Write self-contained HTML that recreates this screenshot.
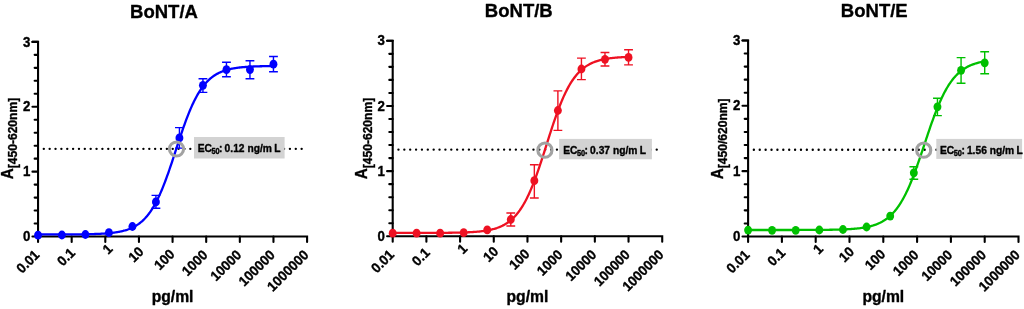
<!DOCTYPE html>
<html><head><meta charset="utf-8"><title>BoNT dose-response</title>
<style>html,body{margin:0;padding:0;background:#fff;width:1024px;height:309px;overflow:hidden}svg{display:block}text{stroke:#000;stroke-width:.35px;stroke-linejoin:round}</style>
</head><body>
<svg width="1024" height="309" viewBox="0 0 1024 309" font-family='"Liberation Sans", Arial, Helvetica, sans-serif' font-weight="bold"><g><text transform="translate(164.00,18.45) scale(0.975,1.0)" font-size="19" text-anchor="middle">BoNT/A</text><text transform="translate(12.75,179.30) rotate(-90) scale(0.96,1.03)" font-size="16">A</text><text transform="translate(17.30,168.30) rotate(-90) scale(1,1.03)" font-size="12.1">[450-620nm]</text><path d="M32.45,41.90H38.05V241.90M38.05,236.50H307.09V241.90" stroke="#000" stroke-width="2.1" fill="none" stroke-linecap="round" stroke-linejoin="miter"/><path d="M32.45,236.50H38.05M34.65,223.53H38.05M34.65,210.55H38.05M34.65,197.58H38.05M34.65,184.61H38.05M32.45,171.63H38.05M34.65,158.66H38.05M34.65,145.69H38.05M34.65,132.71H38.05M34.65,119.74H38.05M32.45,106.77H38.05M34.65,93.79H38.05M34.65,80.82H38.05M34.65,67.85H38.05M34.65,54.87H38.05M32.45,41.90H38.05M71.68,236.50V241.90M105.31,236.50V241.90M138.94,236.50V241.90M172.57,236.50V241.90M206.20,236.50V241.90M239.83,236.50V241.90M273.46,236.50V241.90" stroke="#000" stroke-width="2.1" fill="none" stroke-linecap="round"/><text transform="translate(30.35,241.10) scale(0.93,1.05)" font-size="14.3" text-anchor="end">0</text><text transform="translate(30.35,176.23) scale(0.93,1.05)" font-size="14.3" text-anchor="end">1</text><text transform="translate(30.35,111.37) scale(0.93,1.05)" font-size="14.3" text-anchor="end">2</text><text transform="translate(30.35,46.50) scale(0.93,1.05)" font-size="14.3" text-anchor="end">3</text><text transform="translate(40.35,255.70) rotate(-45) scale(1,1.03)" text-anchor="end" font-size="13.3">0.01</text><text transform="translate(75.93,253.75) rotate(-45) scale(1,1.03)" text-anchor="end" font-size="13.3">0.1</text><text transform="translate(113.48,249.83) rotate(-45) scale(1,1.03)" text-anchor="end" font-size="13.3">1</text><text transform="translate(144.49,252.45) rotate(-45) scale(1,1.03)" text-anchor="end" font-size="13.3">10</text><text transform="translate(175.51,255.06) rotate(-45) scale(1,1.03)" text-anchor="end" font-size="13.3">100</text><text transform="translate(208.50,255.70) rotate(-45) scale(1,1.03)" text-anchor="end" font-size="13.3">1000</text><text transform="translate(242.13,255.70) rotate(-45) scale(1,1.03)" text-anchor="end" font-size="13.3">10000</text><text transform="translate(275.76,255.70) rotate(-45) scale(1,1.03)" text-anchor="end" font-size="13.3">100000</text><text transform="translate(309.39,255.70) rotate(-45) scale(1,1.03)" text-anchor="end" font-size="13.3">1000000</text><text x="172.57" y="302.0" font-size="15.7" text-anchor="middle">pg/ml</text><line x1="43.80" y1="148.80" x2="303.05" y2="148.80" stroke="#000" stroke-width="2.35" stroke-linecap="round" stroke-dasharray="0.01 5.850"/><path d="M38.05,234.45 L38.84,234.45 L39.62,234.45 L40.41,234.45 L41.20,234.45 L41.99,234.45 L42.77,234.45 L43.56,234.45 L44.35,234.45 L45.14,234.45 L45.92,234.45 L46.71,234.45 L47.50,234.45 L48.29,234.45 L49.07,234.44 L49.86,234.44 L50.65,234.44 L51.43,234.44 L52.22,234.44 L53.01,234.44 L53.80,234.44 L54.58,234.44 L55.37,234.44 L56.16,234.43 L56.95,234.43 L57.73,234.43 L58.52,234.43 L59.31,234.43 L60.10,234.42 L60.88,234.42 L61.67,234.42 L62.46,234.42 L63.24,234.42 L64.03,234.41 L64.82,234.41 L65.61,234.41 L66.39,234.40 L67.18,234.40 L67.97,234.40 L68.76,234.39 L69.54,234.39 L70.33,234.38 L71.12,234.38 L71.90,234.37 L72.69,234.37 L73.48,234.36 L74.27,234.36 L75.05,234.35 L75.84,234.35 L76.63,234.34 L77.42,234.33 L78.20,234.32 L78.99,234.32 L79.78,234.31 L80.57,234.30 L81.35,234.29 L82.14,234.28 L82.93,234.27 L83.71,234.26 L84.50,234.24 L85.29,234.23 L86.08,234.22 L86.86,234.20 L87.65,234.19 L88.44,234.17 L89.23,234.16 L90.01,234.14 L90.80,234.12 L91.59,234.10 L92.38,234.08 L93.16,234.05 L93.95,234.03 L94.74,234.00 L95.52,233.98 L96.31,233.95 L97.10,233.92 L97.89,233.89 L98.67,233.85 L99.46,233.82 L100.25,233.78 L101.04,233.74 L101.82,233.70 L102.61,233.65 L103.40,233.60 L104.19,233.55 L104.97,233.50 L105.76,233.45 L106.55,233.39 L107.33,233.32 L108.12,233.26 L108.91,233.19 L109.70,233.11 L110.48,233.03 L111.27,232.95 L112.06,232.86 L112.85,232.77 L113.63,232.67 L114.42,232.56 L115.21,232.45 L116.00,232.33 L116.78,232.21 L117.57,232.08 L118.36,231.94 L119.14,231.79 L119.93,231.64 L120.72,231.48 L121.51,231.30 L122.29,231.12 L123.08,230.93 L123.87,230.72 L124.66,230.51 L125.44,230.28 L126.23,230.04 L127.02,229.79 L127.80,229.52 L128.59,229.24 L129.38,228.94 L130.17,228.62 L130.95,228.29 L131.74,227.94 L132.53,227.57 L133.32,227.18 L134.10,226.77 L134.89,226.34 L135.68,225.89 L136.47,225.41 L137.25,224.90 L138.04,224.37 L138.83,223.82 L139.61,223.23 L140.40,222.61 L141.19,221.97 L141.98,221.29 L142.76,220.57 L143.55,219.82 L144.34,219.04 L145.13,218.22 L145.91,217.35 L146.70,216.45 L147.49,215.51 L148.28,214.52 L149.06,213.49 L149.85,212.42 L150.64,211.29 L151.42,210.13 L152.21,208.91 L153.00,207.64 L153.79,206.32 L154.57,204.95 L155.36,203.53 L156.15,202.05 L156.94,200.53 L157.72,198.94 L158.51,197.31 L159.30,195.62 L160.09,193.88 L160.87,192.09 L161.66,190.25 L162.45,188.35 L163.23,186.40 L164.02,184.41 L164.81,182.37 L165.60,180.28 L166.38,178.15 L167.17,175.98 L167.96,173.78 L168.75,171.53 L169.53,169.25 L170.32,166.95 L171.11,164.61 L171.90,162.26 L172.68,159.88 L173.47,157.49 L174.26,155.09 L175.04,152.67 L175.83,150.26 L176.62,147.84 L177.41,145.43 L178.19,143.03 L178.98,140.63 L179.77,138.26 L180.56,135.90 L181.34,133.57 L182.13,131.26 L182.92,128.98 L183.71,126.73 L184.49,124.52 L185.28,122.35 L186.07,120.22 L186.85,118.13 L187.64,116.08 L188.43,114.09 L189.22,112.14 L190.00,110.24 L190.79,108.39 L191.58,106.59 L192.37,104.85 L193.15,103.16 L193.94,101.52 L194.73,99.94 L195.51,98.41 L196.30,96.93 L197.09,95.50 L197.88,94.13 L198.66,92.81 L199.45,91.54 L200.24,90.32 L201.03,89.14 L201.81,88.02 L202.60,86.94 L203.39,85.91 L204.18,84.92 L204.96,83.97 L205.75,83.07 L206.54,82.20 L207.32,81.38 L208.11,80.59 L208.90,79.84 L209.69,79.12 L210.47,78.44 L211.26,77.79 L212.05,77.18 L212.84,76.59 L213.62,76.03 L214.41,75.50 L215.20,74.99 L215.99,74.51 L216.77,74.05 L217.56,73.62 L218.35,73.21 L219.13,72.82 L219.92,72.45 L220.71,72.10 L221.50,71.76 L222.28,71.45 L223.07,71.15 L223.86,70.86 L224.65,70.60 L225.43,70.34 L226.22,70.10 L227.01,69.87 L227.80,69.66 L228.58,69.45 L229.37,69.26 L230.16,69.07 L230.94,68.90 L231.73,68.74 L232.52,68.58 L233.31,68.43 L234.09,68.30 L234.88,68.16 L235.67,68.04 L236.46,67.92 L237.24,67.81 L238.03,67.71 L238.82,67.61 L239.61,67.51 L240.39,67.42 L241.18,67.34 L241.97,67.26 L242.75,67.19 L243.54,67.11 L244.33,67.05 L245.12,66.98 L245.90,66.92 L246.69,66.87 L247.48,66.81 L248.27,66.76 L249.05,66.72 L249.84,66.67 L250.63,66.63 L251.41,66.59 L252.20,66.55 L252.99,66.52 L253.78,66.48 L254.56,66.45 L255.35,66.42 L256.14,66.39 L256.93,66.36 L257.71,66.34 L258.50,66.31 L259.29,66.29 L260.08,66.27 L260.86,66.25 L261.65,66.23 L262.44,66.21 L263.22,66.20 L264.01,66.18 L264.80,66.16 L265.59,66.15 L266.37,66.14 L267.16,66.12 L267.95,66.11 L268.74,66.10 L269.52,66.09 L270.31,66.08 L271.10,66.07 L271.89,66.06 L272.67,66.05 L273.46,66.04" stroke="#0000ff" stroke-width="2.3" fill="none" stroke-linejoin="round"/><path d="M155.93,195.40V208.20M151.53,195.40H160.33M151.53,208.20H160.33M179.43,127.60V148.10M175.03,127.60H183.83M175.03,148.10H183.83M202.94,78.80V92.40M198.54,78.80H207.34M198.54,92.40H207.34M226.45,62.30V76.70M222.05,62.30H230.85M222.05,76.70H230.85M249.95,60.70V78.70M245.55,60.70H254.35M245.55,78.70H254.35M273.46,56.50V71.80M269.06,56.50H277.86M269.06,71.80H277.86" stroke="#0000ff" stroke-width="1.4" fill="none"/><ellipse cx="38.05" cy="235.20" rx="3.95" ry="4.4" fill="#0000ff"/><ellipse cx="61.90" cy="235.00" rx="3.95" ry="4.4" fill="#0000ff"/><ellipse cx="85.41" cy="234.50" rx="3.95" ry="4.4" fill="#0000ff"/><ellipse cx="108.92" cy="232.70" rx="3.95" ry="4.4" fill="#0000ff"/><ellipse cx="132.42" cy="226.50" rx="3.95" ry="4.4" fill="#0000ff"/><ellipse cx="155.93" cy="201.90" rx="3.95" ry="4.4" fill="#0000ff"/><ellipse cx="179.43" cy="137.90" rx="3.95" ry="4.4" fill="#0000ff"/><ellipse cx="202.94" cy="85.30" rx="3.95" ry="4.4" fill="#0000ff"/><ellipse cx="226.45" cy="69.70" rx="3.95" ry="4.4" fill="#0000ff"/><ellipse cx="249.95" cy="69.60" rx="3.95" ry="4.4" fill="#0000ff"/><ellipse cx="273.46" cy="64.20" rx="3.95" ry="4.4" fill="#0000ff"/><circle cx="176.50" cy="149.00" r="7.1" fill="none" stroke="#a2a2a2" stroke-width="3.05"/><rect x="194.0" y="137.0" width="90.6" height="21.5" fill="#d3d3d3"/><text transform="translate(197.71,151.80) scale(1,1.01)" font-size="10.25"><tspan x="0" y="0">EC</tspan><tspan x="21.4" y="0">:</tspan><tspan x="26.9" y="0">0.12 ng/m</tspan><tspan x="76.6" y="0">L</tspan></text><text transform="translate(211.41,154.10) scale(0.96,1.12)" font-size="7.7">50</text></g><g><text transform="translate(518.80,17.35) scale(0.975,1.0)" font-size="19" text-anchor="middle">BoNT/B</text><text transform="translate(367.40,179.30) rotate(-90) scale(0.96,1.03)" font-size="16">A</text><text transform="translate(371.95,168.30) rotate(-90) scale(1,1.03)" font-size="12.1">[450-620nm]</text><path d="M387.10,40.80H392.70V241.70M392.70,236.30H662.22V241.70" stroke="#000" stroke-width="2.1" fill="none" stroke-linecap="round" stroke-linejoin="miter"/><path d="M387.10,236.30H392.70M389.30,223.27H392.70M389.30,210.23H392.70M389.30,197.20H392.70M389.30,184.17H392.70M387.10,171.13H392.70M389.30,158.10H392.70M389.30,145.07H392.70M389.30,132.03H392.70M389.30,119.00H392.70M387.10,105.97H392.70M389.30,92.93H392.70M389.30,79.90H392.70M389.30,66.87H392.70M389.30,53.83H392.70M387.10,40.80H392.70M426.39,236.30V241.70M460.08,236.30V241.70M493.77,236.30V241.70M527.46,236.30V241.70M561.15,236.30V241.70M594.84,236.30V241.70M628.53,236.30V241.70" stroke="#000" stroke-width="2.1" fill="none" stroke-linecap="round"/><text transform="translate(385.00,240.90) scale(0.93,1.05)" font-size="14.3" text-anchor="end">0</text><text transform="translate(385.00,175.73) scale(0.93,1.05)" font-size="14.3" text-anchor="end">1</text><text transform="translate(385.00,110.57) scale(0.93,1.05)" font-size="14.3" text-anchor="end">2</text><text transform="translate(385.00,45.40) scale(0.93,1.05)" font-size="14.3" text-anchor="end">3</text><text transform="translate(395.00,255.50) rotate(-45) scale(1,1.03)" text-anchor="end" font-size="13.3">0.01</text><text transform="translate(430.64,253.55) rotate(-45) scale(1,1.03)" text-anchor="end" font-size="13.3">0.1</text><text transform="translate(468.25,249.63) rotate(-45) scale(1,1.03)" text-anchor="end" font-size="13.3">1</text><text transform="translate(499.32,252.25) rotate(-45) scale(1,1.03)" text-anchor="end" font-size="13.3">10</text><text transform="translate(530.40,254.86) rotate(-45) scale(1,1.03)" text-anchor="end" font-size="13.3">100</text><text transform="translate(563.45,255.50) rotate(-45) scale(1,1.03)" text-anchor="end" font-size="13.3">1000</text><text transform="translate(597.14,255.50) rotate(-45) scale(1,1.03)" text-anchor="end" font-size="13.3">10000</text><text transform="translate(630.83,255.50) rotate(-45) scale(1,1.03)" text-anchor="end" font-size="13.3">100000</text><text transform="translate(664.52,255.50) rotate(-45) scale(1,1.03)" text-anchor="end" font-size="13.3">1000000</text><text x="527.46" y="302.0" font-size="15.7" text-anchor="middle">pg/ml</text><line x1="398.45" y1="149.60" x2="657.70" y2="149.60" stroke="#000" stroke-width="2.35" stroke-linecap="round" stroke-dasharray="0.01 5.860"/><path d="M392.70,232.92 L393.49,232.92 L394.28,232.92 L395.07,232.92 L395.85,232.92 L396.64,232.92 L397.43,232.92 L398.22,232.92 L399.01,232.92 L399.80,232.92 L400.59,232.92 L401.38,232.92 L402.16,232.92 L402.95,232.92 L403.74,232.92 L404.53,232.92 L405.32,232.92 L406.11,232.92 L406.90,232.92 L407.69,232.92 L408.47,232.92 L409.26,232.92 L410.05,232.92 L410.84,232.92 L411.63,232.92 L412.42,232.92 L413.21,232.91 L414.00,232.91 L414.78,232.91 L415.57,232.91 L416.36,232.91 L417.15,232.91 L417.94,232.91 L418.73,232.91 L419.52,232.91 L420.31,232.91 L421.09,232.91 L421.88,232.90 L422.67,232.90 L423.46,232.90 L424.25,232.90 L425.04,232.90 L425.83,232.90 L426.62,232.89 L427.40,232.89 L428.19,232.89 L428.98,232.89 L429.77,232.89 L430.56,232.88 L431.35,232.88 L432.14,232.88 L432.93,232.88 L433.71,232.87 L434.50,232.87 L435.29,232.87 L436.08,232.86 L436.87,232.86 L437.66,232.85 L438.45,232.85 L439.24,232.85 L440.02,232.84 L440.81,232.84 L441.60,232.83 L442.39,232.83 L443.18,232.82 L443.97,232.81 L444.76,232.81 L445.54,232.80 L446.33,232.79 L447.12,232.78 L447.91,232.78 L448.70,232.77 L449.49,232.76 L450.28,232.75 L451.07,232.74 L451.85,232.73 L452.64,232.71 L453.43,232.70 L454.22,232.69 L455.01,232.68 L455.80,232.66 L456.59,232.64 L457.38,232.63 L458.16,232.61 L458.95,232.59 L459.74,232.57 L460.53,232.55 L461.32,232.53 L462.11,232.51 L462.90,232.48 L463.69,232.46 L464.47,232.43 L465.26,232.40 L466.05,232.37 L466.84,232.34 L467.63,232.31 L468.42,232.27 L469.21,232.23 L470.00,232.19 L470.78,232.15 L471.57,232.10 L472.36,232.06 L473.15,232.01 L473.94,231.95 L474.73,231.90 L475.52,231.84 L476.31,231.78 L477.09,231.71 L477.88,231.64 L478.67,231.56 L479.46,231.49 L480.25,231.40 L481.04,231.32 L481.83,231.22 L482.62,231.12 L483.40,231.02 L484.19,230.91 L484.98,230.80 L485.77,230.67 L486.56,230.54 L487.35,230.41 L488.14,230.26 L488.92,230.11 L489.71,229.95 L490.50,229.78 L491.29,229.60 L492.08,229.41 L492.87,229.21 L493.66,229.00 L494.45,228.78 L495.23,228.55 L496.02,228.30 L496.81,228.04 L497.60,227.76 L498.39,227.47 L499.18,227.17 L499.97,226.84 L500.76,226.50 L501.54,226.14 L502.33,225.77 L503.12,225.37 L503.91,224.95 L504.70,224.51 L505.49,224.04 L506.28,223.56 L507.07,223.04 L507.85,222.50 L508.64,221.94 L509.43,221.34 L510.22,220.71 L511.01,220.06 L511.80,219.37 L512.59,218.64 L513.38,217.89 L514.16,217.09 L514.95,216.26 L515.74,215.39 L516.53,214.48 L517.32,213.52 L518.11,212.53 L518.90,211.49 L519.69,210.40 L520.47,209.27 L521.26,208.09 L522.05,206.86 L522.84,205.58 L523.63,204.25 L524.42,202.87 L525.21,201.44 L526.00,199.95 L526.78,198.41 L527.57,196.82 L528.36,195.17 L529.15,193.47 L529.94,191.72 L530.73,189.91 L531.52,188.04 L532.31,186.13 L533.09,184.16 L533.88,182.15 L534.67,180.08 L535.46,177.97 L536.25,175.81 L537.04,173.61 L537.83,171.37 L538.61,169.09 L539.40,166.78 L540.19,164.43 L540.98,162.05 L541.77,159.64 L542.56,157.21 L543.35,154.76 L544.14,152.30 L544.92,149.82 L545.71,147.34 L546.50,144.85 L547.29,142.36 L548.08,139.88 L548.87,137.40 L549.66,134.93 L550.45,132.48 L551.23,130.05 L552.02,127.64 L552.81,125.26 L553.60,122.90 L554.39,120.58 L555.18,118.30 L555.97,116.05 L556.76,113.84 L557.54,111.68 L558.33,109.56 L559.12,107.49 L559.91,105.46 L560.70,103.49 L561.49,101.57 L562.28,99.70 L563.07,97.88 L563.85,96.12 L564.64,94.41 L565.43,92.76 L566.22,91.16 L567.01,89.61 L567.80,88.11 L568.59,86.67 L569.38,85.29 L570.16,83.95 L570.95,82.66 L571.74,81.43 L572.53,80.24 L573.32,79.10 L574.11,78.01 L574.90,76.96 L575.69,75.96 L576.47,75.00 L577.26,74.08 L578.05,73.21 L578.84,72.37 L579.63,71.57 L580.42,70.81 L581.21,70.08 L581.99,69.38 L582.78,68.72 L583.57,68.09 L584.36,67.49 L585.15,66.92 L585.94,66.38 L586.73,65.86 L587.52,65.37 L588.30,64.90 L589.09,64.45 L589.88,64.03 L590.67,63.63 L591.46,63.25 L592.25,62.89 L593.04,62.55 L593.83,62.22 L594.61,61.91 L595.40,61.62 L596.19,61.34 L596.98,61.08 L597.77,60.83 L598.56,60.59 L599.35,60.37 L600.14,60.16 L600.92,59.96 L601.71,59.77 L602.50,59.59 L603.29,59.41 L604.08,59.25 L604.87,59.10 L605.66,58.95 L606.45,58.82 L607.23,58.69 L608.02,58.56 L608.81,58.45 L609.60,58.34 L610.39,58.23 L611.18,58.13 L611.97,58.04 L612.76,57.95 L613.54,57.87 L614.33,57.79 L615.12,57.71 L615.91,57.64 L616.70,57.58 L617.49,57.51 L618.28,57.45 L619.07,57.40 L619.85,57.34 L620.64,57.29 L621.43,57.24 L622.22,57.20 L623.01,57.16 L623.80,57.12 L624.59,57.08 L625.38,57.04 L626.16,57.01 L626.95,56.97 L627.74,56.94 L628.53,56.92" stroke="#ee1122" stroke-width="2.3" fill="none" stroke-linejoin="round"/><path d="M510.79,213.00V226.00M506.39,213.00H515.19M506.39,226.00H515.19M534.34,164.70V198.00M529.94,164.70H538.74M529.94,198.00H538.74M557.89,90.90V130.40M553.49,90.90H562.29M553.49,130.40H562.29M581.43,58.10V79.60M577.03,58.10H585.83M577.03,79.60H585.83M604.98,52.50V66.00M600.58,52.50H609.38M600.58,66.00H609.38M628.53,49.70V64.90M624.13,49.70H632.93M624.13,64.90H632.93" stroke="#ee1122" stroke-width="1.4" fill="none"/><ellipse cx="392.70" cy="233.20" rx="3.95" ry="4.4" fill="#ee1122"/><ellipse cx="416.60" cy="233.20" rx="3.95" ry="4.4" fill="#ee1122"/><ellipse cx="440.14" cy="233.20" rx="3.95" ry="4.4" fill="#ee1122"/><ellipse cx="463.69" cy="232.60" rx="3.95" ry="4.4" fill="#ee1122"/><ellipse cx="487.24" cy="229.90" rx="3.95" ry="4.4" fill="#ee1122"/><ellipse cx="510.79" cy="219.50" rx="3.95" ry="4.4" fill="#ee1122"/><ellipse cx="534.34" cy="180.70" rx="3.95" ry="4.4" fill="#ee1122"/><ellipse cx="557.89" cy="110.50" rx="3.95" ry="4.4" fill="#ee1122"/><ellipse cx="581.43" cy="69.00" rx="3.95" ry="4.4" fill="#ee1122"/><ellipse cx="604.98" cy="59.30" rx="3.95" ry="4.4" fill="#ee1122"/><ellipse cx="628.53" cy="57.40" rx="3.95" ry="4.4" fill="#ee1122"/><circle cx="544.90" cy="150.20" r="7.1" fill="none" stroke="#a2a2a2" stroke-width="3.05"/><rect x="559.1" y="138.9" width="92.8" height="20.4" fill="#d3d3d3"/><text transform="translate(563.21,153.60) scale(1,1.01)" font-size="10.25"><tspan x="0" y="0">EC</tspan><tspan x="21.4" y="0">:</tspan><tspan x="26.9" y="0">0.37 ng/m</tspan><tspan x="76.6" y="0">L</tspan></text><text transform="translate(576.91,155.90) scale(0.96,1.12)" font-size="7.7">50</text></g><g><text transform="translate(874.30,17.00) scale(0.975,1.0)" font-size="19" text-anchor="middle">BoNT/E</text><text transform="translate(722.80,179.30) rotate(-90) scale(0.96,1.03)" font-size="16">A</text><text transform="translate(727.35,168.30) rotate(-90) scale(1,1.03)" font-size="12.1">[450/620nm]</text><path d="M742.50,40.45H748.10V241.90M748.10,236.50H1018.50V241.90" stroke="#000" stroke-width="2.1" fill="none" stroke-linecap="round" stroke-linejoin="miter"/><path d="M742.50,236.50H748.10M744.70,223.43H748.10M744.70,210.36H748.10M744.70,197.29H748.10M744.70,184.22H748.10M742.50,171.15H748.10M744.70,158.08H748.10M744.70,145.01H748.10M744.70,131.94H748.10M744.70,118.87H748.10M742.50,105.80H748.10M744.70,92.73H748.10M744.70,79.66H748.10M744.70,66.59H748.10M744.70,53.52H748.10M742.50,40.45H748.10M781.90,236.50V241.90M815.70,236.50V241.90M849.50,236.50V241.90M883.30,236.50V241.90M917.10,236.50V241.90M950.90,236.50V241.90M984.70,236.50V241.90" stroke="#000" stroke-width="2.1" fill="none" stroke-linecap="round"/><text transform="translate(740.40,241.10) scale(0.93,1.05)" font-size="14.3" text-anchor="end">0</text><text transform="translate(740.40,175.75) scale(0.93,1.05)" font-size="14.3" text-anchor="end">1</text><text transform="translate(740.40,110.40) scale(0.93,1.05)" font-size="14.3" text-anchor="end">2</text><text transform="translate(740.40,45.05) scale(0.93,1.05)" font-size="14.3" text-anchor="end">3</text><text transform="translate(750.40,255.70) rotate(-45) scale(1,1.03)" text-anchor="end" font-size="13.3">0.01</text><text transform="translate(786.15,253.75) rotate(-45) scale(1,1.03)" text-anchor="end" font-size="13.3">0.1</text><text transform="translate(823.87,249.83) rotate(-45) scale(1,1.03)" text-anchor="end" font-size="13.3">1</text><text transform="translate(855.05,252.45) rotate(-45) scale(1,1.03)" text-anchor="end" font-size="13.3">10</text><text transform="translate(886.24,255.06) rotate(-45) scale(1,1.03)" text-anchor="end" font-size="13.3">100</text><text transform="translate(919.40,255.70) rotate(-45) scale(1,1.03)" text-anchor="end" font-size="13.3">1000</text><text transform="translate(953.20,255.70) rotate(-45) scale(1,1.03)" text-anchor="end" font-size="13.3">10000</text><text transform="translate(987.00,255.70) rotate(-45) scale(1,1.03)" text-anchor="end" font-size="13.3">100000</text><text transform="translate(1020.80,255.70) rotate(-45) scale(1,1.03)" text-anchor="end" font-size="13.3">1000000</text><text x="883.30" y="302.0" font-size="15.7" text-anchor="middle">pg/ml</text><line x1="753.85" y1="149.70" x2="1013.10" y2="149.70" stroke="#000" stroke-width="2.35" stroke-linecap="round" stroke-dasharray="0.01 5.880"/><path d="M747.50,229.99 L748.29,229.99 L749.08,229.99 L749.87,229.99 L750.67,229.99 L751.46,229.99 L752.25,229.99 L753.04,229.99 L753.83,229.99 L754.62,229.99 L755.41,229.99 L756.20,229.99 L757.00,229.99 L757.79,229.99 L758.58,229.99 L759.37,229.99 L760.16,229.99 L760.95,229.99 L761.74,229.99 L762.53,229.99 L763.33,229.99 L764.12,229.99 L764.91,229.99 L765.70,229.99 L766.49,229.99 L767.28,229.99 L768.07,229.99 L768.87,229.99 L769.66,229.99 L770.45,229.99 L771.24,229.99 L772.03,229.99 L772.82,229.99 L773.61,229.99 L774.40,229.99 L775.20,229.99 L775.99,229.99 L776.78,229.99 L777.57,229.98 L778.36,229.98 L779.15,229.98 L779.94,229.98 L780.73,229.98 L781.53,229.98 L782.32,229.98 L783.11,229.98 L783.90,229.98 L784.69,229.98 L785.48,229.98 L786.27,229.98 L787.07,229.98 L787.86,229.98 L788.65,229.98 L789.44,229.98 L790.23,229.98 L791.02,229.98 L791.81,229.98 L792.60,229.97 L793.40,229.97 L794.19,229.97 L794.98,229.97 L795.77,229.97 L796.56,229.97 L797.35,229.97 L798.14,229.97 L798.93,229.97 L799.73,229.96 L800.52,229.96 L801.31,229.96 L802.10,229.96 L802.89,229.96 L803.68,229.96 L804.47,229.95 L805.27,229.95 L806.06,229.95 L806.85,229.95 L807.64,229.94 L808.43,229.94 L809.22,229.94 L810.01,229.94 L810.80,229.93 L811.60,229.93 L812.39,229.93 L813.18,229.92 L813.97,229.92 L814.76,229.91 L815.55,229.91 L816.34,229.91 L817.13,229.90 L817.93,229.90 L818.72,229.89 L819.51,229.88 L820.30,229.88 L821.09,229.87 L821.88,229.86 L822.67,229.86 L823.47,229.85 L824.26,229.84 L825.05,229.83 L825.84,229.82 L826.63,229.81 L827.42,229.80 L828.21,229.79 L829.00,229.78 L829.80,229.77 L830.59,229.76 L831.38,229.74 L832.17,229.73 L832.96,229.72 L833.75,229.70 L834.54,229.68 L835.33,229.67 L836.13,229.65 L836.92,229.63 L837.71,229.61 L838.50,229.59 L839.29,229.56 L840.08,229.54 L840.87,229.51 L841.67,229.48 L842.46,229.46 L843.25,229.43 L844.04,229.39 L844.83,229.36 L845.62,229.32 L846.41,229.29 L847.20,229.25 L848.00,229.20 L848.79,229.16 L849.58,229.11 L850.37,229.06 L851.16,229.01 L851.95,228.95 L852.74,228.89 L853.53,228.83 L854.33,228.76 L855.12,228.69 L855.91,228.62 L856.70,228.54 L857.49,228.46 L858.28,228.37 L859.07,228.28 L859.87,228.19 L860.66,228.08 L861.45,227.98 L862.24,227.86 L863.03,227.74 L863.82,227.61 L864.61,227.48 L865.40,227.34 L866.20,227.19 L866.99,227.03 L867.78,226.86 L868.57,226.69 L869.36,226.50 L870.15,226.31 L870.94,226.10 L871.73,225.89 L872.53,225.66 L873.32,225.42 L874.11,225.16 L874.90,224.89 L875.69,224.61 L876.48,224.31 L877.27,224.00 L878.07,223.67 L878.86,223.32 L879.65,222.95 L880.44,222.57 L881.23,222.16 L882.02,221.74 L882.81,221.29 L883.60,220.82 L884.40,220.32 L885.19,219.80 L885.98,219.25 L886.77,218.68 L887.56,218.08 L888.35,217.44 L889.14,216.78 L889.93,216.09 L890.73,215.36 L891.52,214.59 L892.31,213.80 L893.10,212.96 L893.89,212.09 L894.68,211.18 L895.47,210.22 L896.27,209.23 L897.06,208.19 L897.85,207.11 L898.64,205.99 L899.43,204.81 L900.22,203.59 L901.01,202.33 L901.80,201.01 L902.60,199.65 L903.39,198.23 L904.18,196.77 L904.97,195.25 L905.76,193.68 L906.55,192.07 L907.34,190.40 L908.13,188.68 L908.93,186.91 L909.72,185.09 L910.51,183.22 L911.30,181.30 L912.09,179.34 L912.88,177.34 L913.67,175.28 L914.47,173.19 L915.26,171.06 L916.05,168.89 L916.84,166.69 L917.63,164.45 L918.42,162.19 L919.21,159.90 L920.00,157.58 L920.80,155.25 L921.59,152.90 L922.38,150.53 L923.17,148.16 L923.96,145.78 L924.75,143.40 L925.54,141.02 L926.33,138.65 L927.13,136.28 L927.92,133.93 L928.71,131.59 L929.50,129.28 L930.29,126.98 L931.08,124.71 L931.87,122.47 L932.67,120.27 L933.46,118.09 L934.25,115.96 L935.04,113.86 L935.83,111.81 L936.62,109.79 L937.41,107.83 L938.20,105.91 L939.00,104.03 L939.79,102.21 L940.58,100.43 L941.37,98.71 L942.16,97.03 L942.95,95.41 L943.74,93.84 L944.53,92.32 L945.33,90.84 L946.12,89.42 L946.91,88.05 L947.70,86.73 L948.49,85.46 L949.28,84.24 L950.07,83.06 L950.87,81.93 L951.66,80.84 L952.45,79.80 L953.24,78.80 L954.03,77.84 L954.82,76.93 L955.61,76.05 L956.40,75.21 L957.20,74.41 L957.99,73.64 L958.78,72.91 L959.57,72.21 L960.36,71.55 L961.15,70.91 L961.94,70.31 L962.73,69.73 L963.53,69.18 L964.32,68.65 L965.11,68.16 L965.90,67.68 L966.69,67.23 L967.48,66.80 L968.27,66.39 L969.07,66.01 L969.86,65.64 L970.65,65.29 L971.44,64.96 L972.23,64.64 L973.02,64.34 L973.81,64.06 L974.60,63.79 L975.40,63.53 L976.19,63.29 L976.98,63.06 L977.77,62.84 L978.56,62.63 L979.35,62.44 L980.14,62.25 L980.93,62.07 L981.73,61.91 L982.52,61.75 L983.31,61.60 L984.10,61.45" stroke="#00c000" stroke-width="2.3" fill="none" stroke-linejoin="round"/><path d="M913.82,166.80V179.30M909.42,166.80H918.22M909.42,179.30H918.22M937.45,98.30V115.60M933.05,98.30H941.85M933.05,115.60H941.85M961.07,57.60V83.20M956.67,57.60H965.47M956.67,83.20H965.47M984.70,51.70V73.70M980.30,51.70H989.10M980.30,73.70H989.10" stroke="#00c000" stroke-width="1.4" fill="none"/><ellipse cx="748.10" cy="230.10" rx="3.95" ry="4.4" fill="#00c000"/><ellipse cx="772.07" cy="230.30" rx="3.95" ry="4.4" fill="#00c000"/><ellipse cx="795.70" cy="230.30" rx="3.95" ry="4.4" fill="#00c000"/><ellipse cx="819.32" cy="230.00" rx="3.95" ry="4.4" fill="#00c000"/><ellipse cx="842.95" cy="229.50" rx="3.95" ry="4.4" fill="#00c000"/><ellipse cx="866.57" cy="227.00" rx="3.95" ry="4.4" fill="#00c000"/><ellipse cx="890.20" cy="216.10" rx="3.95" ry="4.4" fill="#00c000"/><ellipse cx="913.82" cy="172.80" rx="3.95" ry="4.4" fill="#00c000"/><ellipse cx="937.45" cy="106.80" rx="3.95" ry="4.4" fill="#00c000"/><ellipse cx="961.07" cy="70.30" rx="3.95" ry="4.4" fill="#00c000"/><ellipse cx="984.70" cy="62.80" rx="3.95" ry="4.4" fill="#00c000"/><circle cx="923.70" cy="150.20" r="7.1" fill="none" stroke="#a2a2a2" stroke-width="3.05"/><rect x="936.3" y="138.9" width="85.8" height="20.0" fill="#d3d3d3"/><text transform="translate(940.01,153.60) scale(1,1.01)" font-size="10.25"><tspan x="0" y="0">EC</tspan><tspan x="21.4" y="0">:</tspan><tspan x="26.9" y="0">1.56 ng/m</tspan><tspan x="76.6" y="0">L</tspan></text><text transform="translate(953.71,155.90) scale(0.96,1.12)" font-size="7.7">50</text></g></svg>
</body></html>
